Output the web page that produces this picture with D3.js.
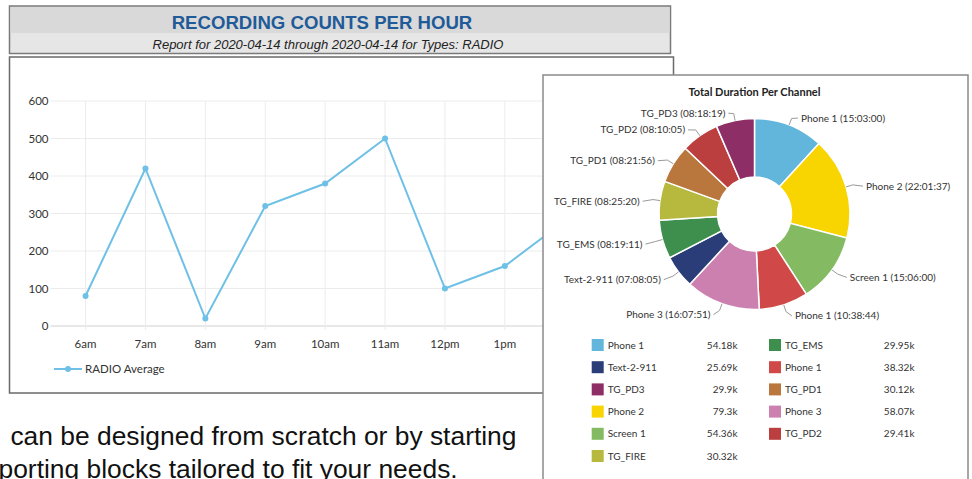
<!DOCTYPE html>
<html>
<head>
<meta charset="utf-8">
<script src="https://cdn.jsdelivr.net/npm/d3@7"></script>
<style>
  body { margin: 0; background: #fff; overflow: hidden; }
  svg { display: block; }
</style>
</head>
<body>
<svg id="chart" width="972" height="479"></svg>
<script>
// line chart data
const hours = ['6am', '7am', '8am', '9am', '10am', '11am', '12pm', '1pm', '2pm'];
const radioAverage = [80, 420, 20, 320, 380, 500, 100, 160, 280];
const yTicks = [0, 100, 200, 300, 400, 500, 600];

// pie data (slice order, clockwise from top)
const channels = ['Phone 1', 'Phone 2', 'Screen 1', 'Phone 1', 'Phone 3', 'Text-2-911',
    'TG_EMS', 'TG_FIRE', 'TG_PD1', 'TG_PD2', 'TG_PD3'];
const durations = ['15:03:00', '22:01:37', '15:06:00', '10:38:44', '16:07:51', '07:08:05',
    '08:19:11', '08:25:20', '08:21:56', '08:10:05', '08:18:19'];
const channelColors = ['#62b6dc', '#f8d400', '#84bb62', '#d04848', '#cc80b0', '#2b3d78',
    '#3e8e4e', '#b7b83e', '#b9773d', '#bc3f3f', '#8e2e66'];
// legend columns, as indexes into channels
const legendCols = [[0, 5, 10, 1, 2, 7], [6, 3, 8, 4, 9]];

const toSeconds = s => s.split(':').reduce((a, v) => a * 60 + (+v), 0);
const seconds = durations.map(toSeconds);

const svg = d3.select('#chart');
const lato = 'Lato, "Open Sans", sans-serif';

// ---- title box
svg.append('rect').attr('x', 9.5).attr('y', 6).attr('width', 661).attr('height', 47.5)
    .attr('fill', '#e6e6e6').attr('stroke', '#7a7a7a').attr('stroke-width', 1.5);
svg.append('rect').attr('x', 10.5).attr('y', 7).attr('width', 659).attr('height', 26)
    .attr('fill', '#d9d9d9');
svg.append('text').attr('x', 322).attr('y', 29).attr('text-anchor', 'middle')
    .attr('font-family', '"Liberation Sans", Arial, sans-serif').attr('font-weight', 'bold')
    .attr('font-size', 18.6).attr('fill', '#1f5b98').text('RECORDING COUNTS PER HOUR');
svg.append('text').attr('x', 328).attr('y', 49).attr('text-anchor', 'middle')
    .attr('font-family', '"Liberation Sans", Arial, sans-serif').attr('font-style', 'italic')
    .attr('font-size', 13).attr('fill', '#222')
    .text('Report for 2020-04-14 through 2020-04-14 for Types: RADIO');

// ---- line chart panel
svg.append('rect').attr('x', 9.5).attr('y', 57).attr('width', 664).attr('height', 336)
    .attr('fill', '#fff').attr('stroke', '#6a6a6a').attr('stroke-width', 1.5);

const x = d3.scaleBand().domain(hours).range([55.6, 55.6 + hours.length * 59.9]);
const y = d3.scaleLinear().domain([0, 600]).range([326, 101]);
const cx = d => x(d) + x.bandwidth() / 2;

const plot = svg.append('g');
// horizontal grid + y labels
plot.selectAll('line.hgrid').data(yTicks).enter().append('line')
    .attr('class', 'hgrid')
    .attr('x1', 50.5).attr('x2', 672).attr('y1', d => y(d)).attr('y2', d => y(d))
    .attr('stroke', d => d === 0 ? '#d0d0d0' : '#ececec').attr('stroke-width', 1);
plot.selectAll('text.ylab').data(yTicks).enter().append('text')
    .attr('class', 'ylab')
    .attr('x', 48.5).attr('y', d => y(d)).attr('dy', '0.35em').attr('text-anchor', 'end')
    .attr('font-family', lato).attr('font-size', 11.5).attr('fill', '#333').text(d => d);
// vertical grid + x labels
plot.selectAll('line.vgrid').data(hours).enter().append('line')
    .attr('class', 'vgrid')
    .attr('x1', cx).attr('x2', cx).attr('y1', y(600)).attr('y2', y(0) + 4)
    .attr('stroke', '#ececec').attr('stroke-width', 1);
plot.selectAll('text.xlab').data(hours).enter().append('text')
    .attr('class', 'xlab')
    .attr('x', cx).attr('y', 344).attr('dy', '0.35em').attr('text-anchor', 'middle')
    .attr('font-family', lato).attr('font-size', 11.5).attr('fill', '#333').text(d => d);

const lineColor = '#6ec0e6';
const line = d3.line().x((d, i) => cx(hours[i])).y(d => y(d));
plot.append('path').datum(radioAverage).attr('d', line)
    .attr('fill', 'none').attr('stroke', lineColor).attr('stroke-width', 2);
plot.selectAll('circle.pt').data(radioAverage).enter().append('circle')
    .attr('class', 'pt')
    .attr('cx', (d, i) => cx(hours[i])).attr('cy', d => y(d)).attr('r', 3)
    .attr('fill', lineColor);

// legend of the line chart
const lg = svg.append('g').attr('transform', 'translate(54,369)');
lg.append('line').attr('x1', 0).attr('x2', 28).attr('stroke', lineColor).attr('stroke-width', 2);
lg.append('circle').attr('cx', 14).attr('r', 3).attr('fill', lineColor);
lg.append('text').attr('x', 31).attr('dy', '0.35em').attr('font-family', lato)
    .attr('font-size', 11.5).attr('fill', '#333').text('RADIO Average');

// ---- bottom body text
const body = svg.append('g').attr('font-family', '"Liberation Sans", Arial, sans-serif')
    .attr('font-size', 26.4).attr('fill', '#111');
body.append('text').attr('x', 10.4).attr('y', 445).text('can be designed from scratch or by starting');
body.append('text').attr('x', -1.5).attr('y', 478).text('porting blocks tailored to fit your needs.');

// ---- pie panel
svg.append('rect').attr('x', 543).attr('y', 75).attr('width', 425).attr('height', 420)
    .attr('fill', '#fff').attr('stroke', '#8a8a8a').attr('stroke-width', 1.5);
svg.append('text').attr('x', 754.5).attr('y', 92).attr('dy', '0.35em').attr('text-anchor', 'middle')
    .attr('font-family', lato).attr('font-weight', 'bold').attr('font-size', 11)
    .attr('fill', '#222').text('Total Duration Per Channel');

const pcx = 754.5, pcy = 214, outerR = 95.5, innerR = 37;
const pie = d3.pie().sort(null).value(d => d);
const arcs = pie(seconds);
const arc = d3.arc().innerRadius(innerR).outerRadius(outerR);
const pg = svg.append('g').attr('transform', `translate(${pcx},${pcy})`);
pg.selectAll('path').data(arcs).enter().append('path')
    .attr('d', arc).attr('fill', (d, i) => channelColors[i])
    .attr('stroke', '#fff').attr('stroke-width', 1.5);

// data labels with connectors
const midA = d => (d.startAngle + d.endAngle) / 2;
const labelPos = d => {
    const a = midA(d), side = Math.sin(a) >= 0 ? 1 : -1;
    return [109 * Math.sin(a) + side * 7, -105 * Math.cos(a) + 2, side];
};
pg.selectAll('path.conn').data(arcs).enter().append('path')
    .attr('class', 'conn')
    .attr('d', d => {
        const a = midA(d), p = labelPos(d);
        const e = [outerR * Math.sin(a), -outerR * Math.cos(a)];
        const b = [(outerR + 7) * Math.sin(a), -(outerR + 7) * Math.cos(a)];
        return `M${e}L${b}L${p[0] - p[2] * 3},${p[1]}`;
    })
    .attr('fill', 'none').attr('stroke', '#9a9a9a').attr('stroke-width', 1);
pg.selectAll('text.dl').data(arcs).enter().append('text')
    .attr('class', 'dl')
    .attr('x', d => labelPos(d)[0]).attr('y', d => labelPos(d)[1]).attr('dy', '0.35em')
    .attr('text-anchor', d => labelPos(d)[2] > 0 ? 'start' : 'end')
    .attr('font-family', lato).attr('font-size', 10).attr('fill', '#333')
    .text((d, i) => `${channels[i]} (${durations[i]})`);

// legend with totals (seconds shown in thousands, 2 decimals)
const fmtK = v => d3.format('.4~r')(Math.round(v / 10) / 100) + 'k';
const colX = [591.7, 769], valX = [737.5, 914.5];
legendCols.forEach((col, c) => {
    const g = svg.append('g');
    const row = g.selectAll('g').data(col).enter().append('g')
        .attr('transform', (d, r) => `translate(${colX[c]},${345 + r * 22.2})`);
    row.append('rect').attr('x', 0).attr('y', -6).attr('width', 12).attr('height', 12)
        .attr('fill', d => channelColors[d]);
    row.append('text').attr('x', 16).attr('dy', '0.35em').attr('font-family', lato)
        .attr('font-size', 10).attr('fill', '#333').text(d => channels[d]);
    row.append('text').attr('x', valX[c] - colX[c]).attr('dy', '0.35em').attr('text-anchor', 'end')
        .attr('font-family', lato).attr('font-size', 10).attr('fill', '#333')
        .text(d => fmtK(seconds[d]));
});
</script>
</body>
</html>
